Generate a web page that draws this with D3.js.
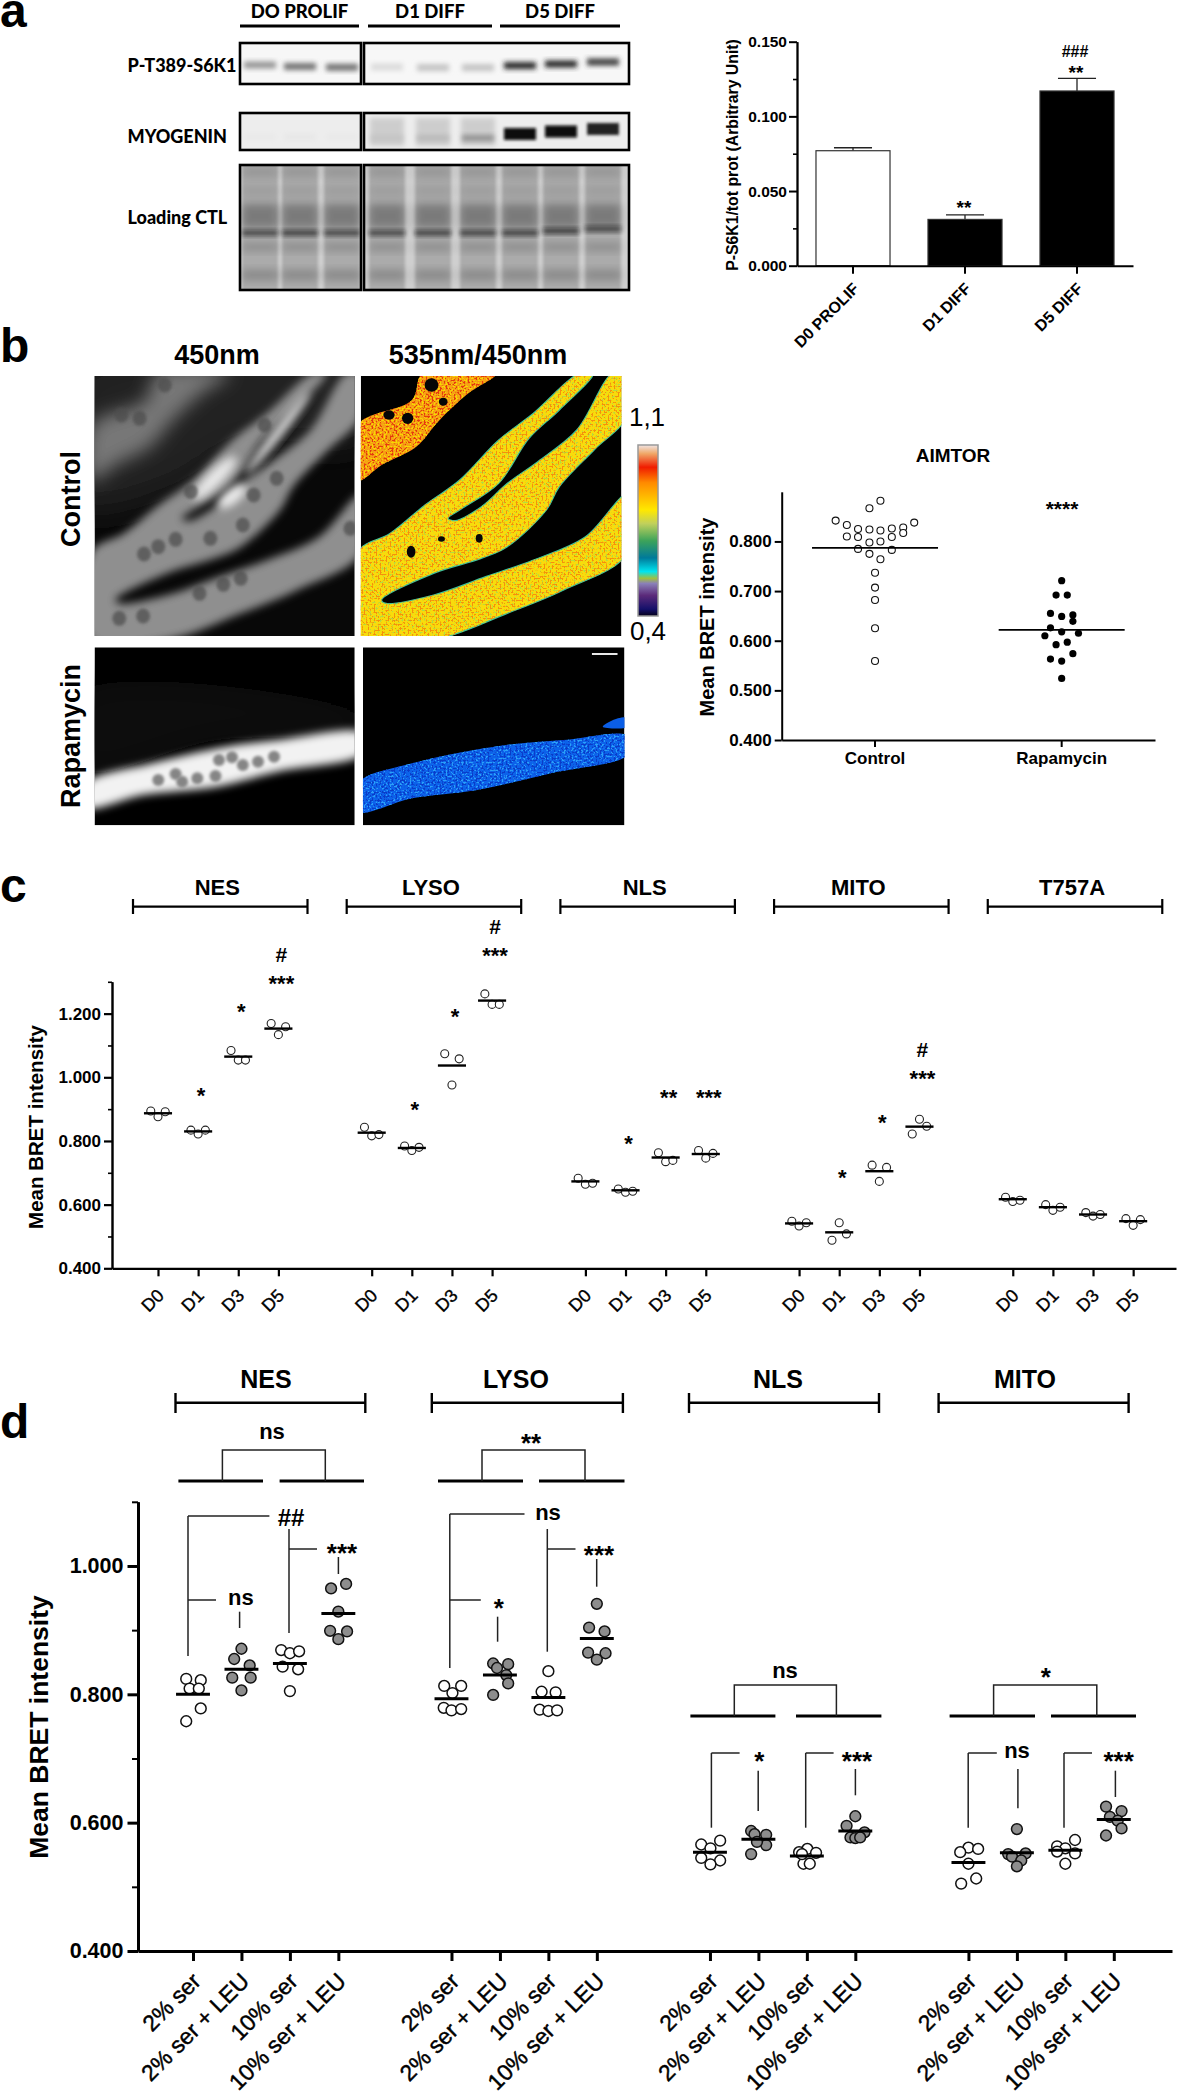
<!DOCTYPE html>
<html><head><meta charset="utf-8">
<script src="https://cdn.jsdelivr.net/npm/d3@7"></script>
<style>html,body{margin:0;background:#fff}svg{display:block}text{font-family:"Liberation Sans",Arial,sans-serif;fill:#000}</style>
</head><body><svg id="c" width="1180" height="2092" viewBox="0 0 1180 2092"></svg>
<script>
// ---------- Panel a data
const barCats=["D0 PROLIF","D1 DIFF","D5 DIFF"];
const barVals=[0.077,0.031,0.117];
const barErrTop=[0.079,0.034,0.1255];
const barFills=["#fff","#000","#000"];
const barTicks=[0,0.05,0.1,0.15];
const barMinor=[0.025,0.075,0.125];
const blotHeaders=["DO PROLIF","D1 DIFF","D5 DIFF"];
const blotLabels=["P-T389-S6K1","MYOGENIN","Loading CTL"];
const s6k1Bands=[.4,.55,.55,.1,.2,.2,.88,.88,.78];
const myogBands=[.04,.05,.04,.2,.25,.42,1,1,.9];
const loadBands=[.75,.8,.75,.75,.78,.78,.8,.8,.7];
// ---------- Panel b data
const aimtorCats=["Control","Rapamycin"];
const aimtorControl=[.842,.833,.825,.824,.822,.826,.828,.838,.882,.867,.810,.809,.798,.800,.809,.817,.785,.775,.764,.783,.737,.707,.682,.625,.559];
const aimtorControlJit=[-.211,-.151,-.091,-.03,.029,.09,.151,.21,.029,-.03,-.151,-.091,-.03,.029,.09,.151,-.091,-.03,.029,.09,0,0,0,0,0];
const aimtorRapa=[.721,.692,.692,.655,.649,.652,.639,.626,.618,.615,.610,.592,.597,.574,.563,.559,.524];
const aimtorRapaJit=[0,-.03,.03,-.06,0,.06,.06,-.06,0,.09,-.09,-.03,.03,.06,-.06,0,0];
const aimtorMeans=[.787,.622];
const aimtorTicks=[.4,.5,.6,.7,.8];
// ---------- Panel c data
const cGroups=["NES","LYSO","NLS","MITO","T757A"];
const cDays=["D0","D1","D3","D5"];
const cJitter=[-.18,0,.18];
const cMeans=[[.887,.830,1.065,1.153],[.826,.778,1.037,1.241],[.673,.645,.748,.759],[.541,.513,.705,.845],[.617,.592,.569,.548]];
const cPoints=[
[[.894,.876,.892],[.834,.822,.834],[1.084,1.054,1.054],[1.169,1.134,1.159]],
[[.843,.816,.820],[.784,.770,.780],[1.074,.976,1.058],[1.262,1.229,1.229]],
[[.683,.664,.667],[.649,.639,.642],[.763,.735,.739],[.770,.746,.761]],
[[.548,.533,.543],[.488,.543,.508],[.724,.673,.717],[.822,.868,.846]],
[[.623,.610,.614],[.600,.582,.592],[.575,.564,.569],[.556,.535,.553]]];
const cTicks=[.4,.6,.8,1,1.2];
const cMinor=[.5,.7,.9,1.1,1.3];
// [group, day, text, value-height]
const cMarks=[[0,1,"*",.960],[0,2,"*",1.222],[0,3,"***",1.312],[0,3,"#",1.387],
[1,1,"*",.916],[1,2,"*",1.208],[1,3,"***",1.400],[1,3,"#",1.475],
[2,1,"*",.810],[2,2,"**",.952],[2,3,"***",.952],
[3,1,"*",.703],[3,2,"*",.875],[3,3,"***",1.013],[3,3,"#",1.089]];
// ---------- Panel d data
const dGroups=["NES","LYSO","NLS","MITO"];
const dConds=["2% ser","2% ser + LEU","10% ser","10% ser + LEU"];
const dMeans=[[.800,.839,.848,.926],[.793,.830,.795,.887],[.554,.574,.548,.587],[.538,.553,.557,.605]];
const dVals=[
[[.824,.822,.809,.809,.778,.758],[.871,.855,.845,.826,.826,.806],[.869,.864,.867,.843,.839,.805],[.965,.972,.929,.899,.898,.886]],
[[.813,.813,.802,.779,.775,.777],[.848,.847,.841,.830,.817,.799],[.836,.804,.803,.776,.774,.775],[.941,.904,.898,.865,.864,.854]],
[[.572,.566,.560,.545,.541,.535],[.587,.582,.581,.565,.551,.570],[.559,.554,.553,.536,.536,.551],[.610,.595,.585,.577,.576,.577]],
[[.561,.554,.559,.536,.513,.505],[.590,.551,.552,.547,.541,.532],[.573,.563,.560,.555,.552,.536],[.625,.618,.609,.603,.591,.580]]];
const dJit=[
[[-.14,.16,-.07,.12,.16,-.14],[0,-.15,.17,-.19,.19,0],[-.18,0,.19,-.15,.17,0],[-.15,.16,0,-.17,.18,0]],
[[-.15,.2,.02,-.16,0,.2],[-.14,.17,-.06,.13,.17,-.14],[0,-.14,.15,-.18,0,.18],[0,-.16,.16,-.18,.18,0]],
[[.21,-.18,.01,-.18,.21,.01],[-.15,-.08,.16,.16,-.15,-.03],[.01,-.16,.19,-.07,.06,-.1],[0,-.18,.19,-.1,0,.1]],
[[0,-.17,.2,0,.16,-.15],[0,-.18,.18,-.1,.09,0],[.2,-.17,0,-.17,.2,0],[-.16,.16,-.08,.08,.16,-.16]]];
const dTicks=[.4,.6,.8,1];
const dMinor=[.5,.7,.9,1.1];

// ---------- Layout
const svg=d3.select("#c");
const defs=svg.append("defs");
const L=(sel,x1,y1,x2,y2,w=1.5,c="#000")=>sel.append("line").attr("x1",x1).attr("y1",y1).attr("x2",x2).attr("y2",y2).attr("stroke",c).attr("stroke-width",w);
function T(sel,s,x,y,fs,o={}){return sel.append("text").text(s).attr("x",x).attr("y",y).attr("font-size",fs).attr("font-weight",o.w||"bold").attr("text-anchor",o.a||"middle").attr("transform",o.r?`rotate(${o.r} ${x} ${y})`:null).style("font-family",o.f||null);}
function mark(sel,s,x,cy,fs){const k=s[0]==="*"?.58:s[0]==="#"?.36:.26;return T(sel,s,x,cy+k*fs,fs);}
function styleAxis(g,w,fs){g.selectAll("path,line").attr("stroke","#000").attr("stroke-width",w);g.selectAll("text").attr("font-size",fs).attr("font-weight","bold").attr("font-family",'"Liberation Sans"');g.selectAll("path").attr("fill","none");}
function blur(id,sd){defs.append("filter").attr("id",id).attr("x","-60%").attr("y","-60%").attr("width","220%").attr("height","220%").append("feGaussianBlur").attr("stdDeviation",sd);}
blur("b1",1.4);blur("b2",2.5);blur("b4",4);blur("b5",5);blur("b9",9);blur("b16",16);blur("b03",.7);
function speck(id,color,seed,k,c,freq=.5){const f=defs.append("filter").attr("id",id).attr("x",0).attr("y",0).attr("width","100%").attr("height","100%").attr("color-interpolation-filters","sRGB");
 f.append("feTurbulence").attr("type","fractalNoise").attr("baseFrequency",freq).attr("numOctaves",2).attr("seed",seed).attr("result","n");
 const q=d3.color(color);
 f.append("feColorMatrix").attr("in","n").attr("type","matrix").attr("values",`0 0 0 0 ${q.r/255} 0 0 0 0 ${q.g/255} 0 0 0 0 ${q.b/255} ${k} 0 0 0 ${c}`).attr("result","m");
 f.append("feComposite").attr("in","m").attr("in2","SourceAlpha").attr("operator","in");}
speck("spOr","#f5900c",3,11,-5.6);speck("spGr","#b4dc40",7,11,-6.6);speck("spRd","#e63a0c",5,11,-5.4);speck("spYl","#f8d800",9,11,-5.9);speck("spBl","#2aa0f8",11,11,-5.8);speck("spDb","#0a3cc8",13,11,-5.6);

// ---------- Panel letters
[["a",27],["b",362],["c",902],["d",1438]].forEach(([s,y])=>T(svg,s,0,y,48,{a:"start"}));

// ---------- Panel a: blots
const blot=svg.append("g");
const laneX=[260,300,342,387,433,478,520,561,603];
const blotBoxes=[[240,361],[364,629]];
let clipN=0;
function clip(x,y,w,h){const id="cl"+(clipN++);defs.append("clipPath").attr("id",id).append("rect").attr("x",x).attr("y",y).attr("width",w).attr("height",h);return `url(#${id})`;}
blotHeaders.forEach((h,i)=>{const r=[[240,359],[368,492],[500,620]][i];
 T(blot,h,(r[0]+r[1])/2,18,18.5,{f:"Lato"}).style("font-weight",900);L(blot,r[0],26,r[1],26,3.2);});
blotLabels.forEach((s,i)=>T(blot,s,127.5,[72,143,224][i],18,{a:"start",f:"Lato"}).style("font-weight",900));
function gelRow(y0,y1,bg,draw){blotBoxes.forEach(b=>{const g=blot.append("g").attr("clip-path",clip(b[0],y0,b[1]-b[0],y1-y0));
  g.append("rect").attr("x",b[0]).attr("y",y0).attr("width",b[1]-b[0]).attr("height",y1-y0).attr("fill",bg);draw(g);
  });
  blotBoxes.forEach(b=>blot.append("rect").attr("x",b[0]).attr("y",y0).attr("width",b[1]-b[0]).attr("height",y1-y0).attr("fill","none").attr("stroke","#000").attr("stroke-width",2.6));}
const dark=d3.scaleLinear().domain([0,1]).range(["#f2f2f2","#0c0c0c"]);
const s6y=[65,66.5,67.3,67,67.6,67.6,65.6,64,62], myy=[136,136,136,137,137,137,134,131.5,129];
gelRow(43,84,"#f7f7f7",g=>{g.selectAll("rect.b").data(s6k1Bands).join("rect").attr("class","b").attr("x",(d,i)=>laneX[i]-16).attr("width",32).attr("y",(d,i)=>s6y[i]-3.5).attr("height",7).attr("fill",d=>dark(d)).attr("filter","url(#b2)");});
gelRow(113,150,"#ededed",g=>{
  g.selectAll("rect.h").data(d3.range(3,6)).join("rect").attr("class","h").attr("x",i=>laneX[i]-17).attr("width",34).attr("y",118).attr("height",28).attr("fill","#000").attr("opacity",.13).attr("filter","url(#b2)");
  g.selectAll("rect.b").data(myogBands).join("rect").attr("class","b").attr("x",(d,i)=>laneX[i]-16).attr("width",32).attr("y",(d,i)=>myy[i]-(d>.8?6:2)).attr("height",d=>d>.8?12:6).attr("fill",d=>dark(d)).attr("filter",(d)=>d>.8?"url(#b1)":"url(#b2)");});
const smear=[[167,177,.12],[186,196,.08],[204,228,.28],[243,251,.18],[270,280,.2]];
gelRow(165,290,"#cfcfcf",g=>{laneX.forEach((x,i)=>{
   g.append("rect").attr("x",x-18).attr("width",36).attr("y",160).attr("height",135).attr("fill","#ababab").attr("filter","url(#b1)");
   smear.forEach(s=>g.append("rect").attr("x",x-18).attr("width",36).attr("y",s[0]).attr("height",s[1]-s[0]).attr("fill","#000").attr("opacity",s[2]).attr("filter","url(#b4)"));
   g.append("rect").attr("x",x-18).attr("width",36).attr("y",(i>5?233-(i-6)*2:233)-2.5).attr("height",5).attr("fill","#111").attr("opacity",loadBands[i]).attr("filter","url(#b2)");
 });});

// ---------- Panel a: bar chart
const ba=svg.append("g");
const by=d3.scaleLinear().domain([0,.15]).range([265.7,41.7]);
const bx=d3.scaleBand().domain(barCats).range([797,1133]).paddingInner(.339).paddingOuter(.1695);
ba.selectAll("line.err").data(barCats).join("line").attr("class","err").attr("x1",d=>bx(d)+bx.bandwidth()/2).attr("x2",d=>bx(d)+bx.bandwidth()/2).attr("y1",(d,i)=>by(barVals[i])).attr("y2",(d,i)=>by(barErrTop[i])).attr("stroke","#222").attr("stroke-width",1.3);
ba.selectAll("line.cap").data(barCats).join("line").attr("class","cap").attr("x1",d=>bx(d)+18).attr("x2",d=>bx(d)+bx.bandwidth()-18).attr("y1",(d,i)=>by(barErrTop[i])).attr("y2",(d,i)=>by(barErrTop[i])).attr("stroke","#222").attr("stroke-width",1.3);
ba.selectAll("rect").data(barCats).join("rect").attr("x",d=>bx(d)).attr("width",bx.bandwidth()).attr("y",(d,i)=>by(barVals[i])).attr("height",(d,i)=>by(0)-by(barVals[i])).attr("fill",(d,i)=>barFills[i]).attr("stroke","#333").attr("stroke-width",1.2);
let g=ba.append("g").attr("transform","translate(797,0)").call(d3.axisLeft(by).tickValues(barTicks).tickFormat(d3.format(".3f")).tickSize(8).tickSizeOuter(0).tickPadding(2));styleAxis(g,2,15.5);
g=ba.append("g").attr("transform","translate(797,0)").call(d3.axisLeft(by).tickValues(barMinor).tickFormat("").tickSize(4).tickSizeOuter(0));styleAxis(g,1.6,0);
g=ba.append("g").attr("transform","translate(0,265.7)").call(d3.axisBottom(bx).tickSize(8).tickSizeOuter(0));styleAxis(g,2,16);
g.selectAll(".tick text").attr("x",0).attr("y",0).attr("dy",".35em").attr("text-anchor","end").attr("transform","translate(3,20) rotate(-45)");
T(ba,"P-S6K1/tot prot (Arbitrary Unit)",738,155,15.8,{r:-90});
mark(ba,"**",964,203,19);mark(ba,"**",1076,68,19);mark(ba,"###",1075,51,16);

// ---------- Panel b: micrographs (outlines traced in zoom coordinates)
const zx=d3.scaleLinear().domain([0,2.306]).range([0,1]);
const zy=d3.scaleLinear().domain([0,3]).range([350,351]);
const outline=(a,dx=0)=>d3.line().x(p=>zx(p[0]+dx)).y(p=>zy(p[1])).curve(d3.curveCatmullRomClosed.alpha(.5))(a);
const upperTube=[[825,225],[950,150],[975,70],[1145,70],[1080,130],[1010,215],[960,290],[880,345],[825,392]];
const mainTube=[[825,606],[900,550],[980,465],[1060,390],[1150,270],[1230,190],[1335,70],[1368,70],[1290,180],[1220,265],[1150,400],[1060,480],[1033,505],[1050,512],[1110,470],[1170,400],[1240,335],[1330,240],[1412,70],[1445,70],[1445,200],[1370,300],[1290,410],[1260,480],[1170,590],[1110,625],[1000,670],[880,750],[890,760],[1000,735],[1120,680],[1230,630],[1350,560],[1445,435],[1445,612],[1300,720],[1170,790],[1000,870],[825,870]];
const nuclei=[[380,105],[280,195],[322,205],[610,225],[440,425],[638,385],[585,435],[560,525],[485,565],[405,568],[365,590],[332,612],[460,730],[515,703],[555,685],[275,805],[330,798],[808,535]];
const holes=[[995,105,16,20],[897,195,13,14],[940,205,13,17],[1022,155,10,12],[948,605,10,18],[1105,565,8,13],[1018,567,8,8]];
const im=svg.append("g");
function panel(x0,y0,x1,y1,bg){const gg=im.append("g").attr("clip-path",clip(zx(x0),zy(y0),zx(x1)-zx(x0),zy(y1)-zy(y0)));gg.append("rect").attr("x",zx(x0)).attr("y",zy(y0)).attr("width",zx(x1)-zx(x0)).attr("height",zy(y1)-zy(y0)).attr("fill",bg);return gg;}
const poly=(gg,a,dx,fill,f)=>gg.append("path").attr("d",outline(a,dx)).attr("fill",fill).attr("filter",f?`url(#${f})`:null);
const rotE=(gg,x,y,rx,ry,r,fill,f,o=1)=>gg.append("ellipse").attr("cx",zx(x)).attr("cy",zy(y)).attr("rx",rx).attr("ry",ry).attr("fill",fill).attr("opacity",o).attr("transform",`rotate(${r} ${zx(x)} ${zy(y)})`).attr("filter",`url(#${f})`);
// control 450nm
let pg=panel(218,78,818,858,"#080808");
poly(pg,[[180,60],[850,60],[850,260],[560,300],[400,420],[180,470]],0,"#202020","b16");
poly(pg,upperTube.map(p=>[p[0]-614,p[1]]),0,"#777","b9");
poly(pg,mainTube,-614,"#8f8f8f","b4");
rotE(pg,640,250,5,52,38,"#dcdcdc","b4");
rotE(pg,495,385,8,30,45,"#f4f4f4","b5",.9);
rotE(pg,535,440,7,17,52,"#eee","b4");
pg.selectAll("ellipse.n").data(nuclei).join("ellipse").attr("class","n").attr("cx",d=>zx(d[0])).attr("cy",d=>zy(d[1])).attr("rx",7).attr("ry",7.5).attr("fill","#4d4d4d").attr("opacity",.72).attr("filter","url(#b1)");
// control ratio
pg=panel(832,78,1433,858,"#000");
poly(pg,upperTube,0,"#f6a414");
pg.append("path").attr("d",outline(upperTube)).attr("filter","url(#spRd)");
pg.append("path").attr("d",outline(upperTube)).attr("filter","url(#spYl)");
poly(pg,mainTube,0,"#f8dc0c").attr("stroke","#3fc09a").attr("stroke-width",1.2);
pg.append("path").attr("d",outline(mainTube)).attr("filter","url(#spOr)");
pg.append("path").attr("d",outline(mainTube)).attr("filter","url(#spGr)");
pg.selectAll("ellipse.n").data(holes).join("ellipse").attr("class","n").attr("cx",d=>zx(d[0])).attr("cy",d=>zy(d[1])).attr("rx",d=>d[2]/2.306).attr("ry",d=>d[3]/3).attr("fill","#060606");
// rapamycin 450nm
pg=panel(218,892,818,1426,"#000");
poly(pg,[[180,1030],[850,1100],[850,1140],[500,1170],[180,1260]],0,"#0e0e0e","b16");
poly(pg,[[200,1300],[350,1240],[520,1190],[640,1170],[840,1150],[840,1210],[640,1265],[500,1310],[330,1335],[200,1372]],0,"#f2f2f2","b4");
pg.selectAll("ellipse.n").data([[365,1290],[405,1272],[420,1295],[455,1285],[497,1278],[505,1230],[535,1222],[560,1245],[595,1235],[632,1220]]).join("ellipse").attr("class","n").attr("cx",d=>zx(d[0])).attr("cy",d=>zy(d[1])).attr("rx",6).attr("ry",6).attr("fill","#858585").attr("filter","url(#b1)");
// rapamycin ratio
const blueTube=[[825,1300],[950,1240],[1140,1190],[1300,1170],[1450,1158],[1450,1212],[1270,1270],[1100,1320],[950,1345],[825,1385]];
pg=panel(837,892,1440,1426,"#000");
poly(pg,blueTube,0,"#0c62ea");
pg.append("path").attr("d",outline(blueTube)).attr("filter","url(#spBl)");
pg.append("path").attr("d",outline(blueTube)).attr("filter","url(#spDb)");
poly(pg,[[1390,1130],[1425,1105],[1450,1105],[1450,1130]],0,"#0b5ee6");
L(pg,zx(1365),zy(912),zx(1424),zy(912),2,"#e8e8e8");
// colour bar
const cbStops=[[0,"#f0e4e4"],[.05,"#f0a868"],[.13,"#f01c00"],[.22,"#ff8a00"],[.38,"#ffe800"],[.46,"#c0d05c"],[.56,"#3da35a"],[.66,"#007a9a"],[.74,"#00e4f0"],[.78,"#a0c040"],[.81,"#8a80b8"],[.88,"#5b2a7a"],[.96,"#14106a"],[1,"#050018"]];
const lg=defs.append("linearGradient").attr("id","cb").attr("x1",0).attr("y1",0).attr("x2",0).attr("y2",1);
lg.selectAll("stop").data(cbStops).join("stop").attr("offset",d=>d[0]).attr("stop-color",d=>d[1]);
im.append("rect").attr("x",638).attr("y",445).attr("width",20).attr("height",171).attr("fill","url(#cb)").attr("stroke","#999").attr("stroke-width",1.5);
T(im,"1,1",647,426,26,{w:"normal"});T(im,"0,4",648,640,26,{w:"normal"});
T(im,"450nm",217,364,27);T(im,"535nm/450nm",478,364,27);
T(im,"Control",80,499,27,{r:-90});T(im,"Rapamycin",80,736,27,{r:-90});

// ---------- Panel b: AIMTOR
const bb=svg.append("g");
const ay=d3.scaleLinear().domain([.4,.9]).range([740,491.8]);
const ax=d3.scaleBand().domain(aimtorCats).range([781.7,1155]);
const aStep=ax.step(),aC=c=>ax(c)+aStep/2;
bb.selectAll("circle.c").data(aimtorControl).join("circle").attr("class","c").attr("cx",(d,i)=>aC("Control")+aimtorControlJit[i]*aStep).attr("cy",d=>ay(d)).attr("r",3.5).attr("fill","#fff").attr("stroke","#111").attr("stroke-width",1.1);
bb.selectAll("circle.r").data(aimtorRapa).join("circle").attr("class","r").attr("cx",(d,i)=>aC("Rapamycin")+aimtorRapaJit[i]*aStep).attr("cy",d=>ay(d)).attr("r",3.6).attr("fill","#000");
bb.selectAll("line.m").data(aimtorCats).join("line").attr("class","m").attr("x1",d=>aC(d)-63).attr("x2",d=>aC(d)+63).attr("y1",(d,i)=>ay(aimtorMeans[i])).attr("y2",(d,i)=>ay(aimtorMeans[i])).attr("stroke","#000").attr("stroke-width",1.8);
g=bb.append("g").attr("transform","translate(781.7,0)").call(d3.axisLeft(ay).tickValues(aimtorTicks).tickFormat(d3.format(".3f")).tickSize(7).tickSizeOuter(0).tickPadding(3));styleAxis(g,2,17);
g=bb.append("g").attr("transform","translate(0,740)").call(d3.axisBottom(ax).tickSize(7).tickSizeOuter(0).tickPadding(5));styleAxis(g,2,17);
T(bb,"AIMTOR",953,462,19);T(bb,"Mean BRET intensity",714,617,20,{r:-90});mark(bb,"****",1062,504,21);

// ---------- Panel c
const cc=svg.append("g");
const cy=d3.scaleLinear().domain([.4,1.3]).range([1268.3,981.8]);
const cPitch=40.13,cGroupStep=5.325;
const cx=d3.scaleLinear().domain([0,1]).range([158,158+cPitch]);
const cU=(g,i)=>g*cGroupStep+i;
cGroups.forEach((name,gi)=>{
 const a=cx(cU(gi,0))-25,b=a+174.5;
 L(cc,a,906.7,b,906.7,2.2);L(cc,a,899,a,914,2.2);L(cc,b,899,b,914,2.2);
 T(cc,name,(a+b)/2-3,894.5,22);
 cDays.forEach((d,di)=>{
  cc.selectAll(null).data(cPoints[gi][di]).join("circle").attr("cx",(v,k)=>cx(cU(gi,di)+cJitter[k])).attr("cy",v=>cy(v)).attr("r",4).attr("fill","#fff").attr("stroke","#222").attr("stroke-width",1.1);
  const m=cMeans[gi][di];
  L(cc,cx(cU(gi,di)-.35),cy(m),cx(cU(gi,di)+.35),cy(m),2.4);
 });
});
cMarks.forEach(([gi,di,s,v])=>mark(cc,s,cx(cU(gi,di))+3,cy(v),s==="#"?21:22));
const cTickU=cGroups.flatMap((n,gi)=>cDays.map((d,di)=>cU(gi,di)));
g=cc.append("g").attr("transform","translate(112,0)").call(d3.axisLeft(cy).tickValues(cTicks).tickFormat(d3.format(".3f")).tickSize(8).tickSizeOuter(0).tickPadding(3));styleAxis(g,2.2,17);
g=cc.append("g").attr("transform","translate(112,0)").call(d3.axisLeft(cy).tickValues(cMinor).tickFormat("").tickSize(4).tickSizeOuter(0));styleAxis(g,1.6,0);
g=cc.append("g").attr("transform","translate(0,1268.3)");
g.call(d3.axisBottom(cx.copy().domain([cx.invert(112),cx.invert(1176)]).range([112,1176])).tickValues(cTickU).tickFormat((d,i)=>cDays[i%4]).tickSize(8).tickSizeOuter(0));styleAxis(g,2.2,18);
g.selectAll(".tick text").attr("x",0).attr("y",0).attr("dy",".35em").attr("text-anchor","end").attr("font-weight","normal").style("stroke","#000").style("stroke-width",.35).attr("transform","translate(2,24) rotate(-45)");
T(cc,"Mean BRET intensity",43,1127,20.5,{r:-90});

// ---------- Panel d
const dd=svg.append("g");
const dy=d3.scaleLinear().domain([.4,1.1]).range([1951,1501.8]);
const dPitch=48.45,dGroupStep=5.335;
const dx=d3.scaleLinear().domain([0,1]).range([193,193+dPitch]);
const dU=(g,i)=>g*dGroupStep+i;
const dBrack=[[175.5,365.3],[431.8,622.9],[689,879],[938.6,1128.6]];
dGroups.forEach((name,gi)=>{
 const [a,b]=dBrack[gi];
 L(dd,a,1402.7,b,1402.7,2.4);L(dd,a,1393,a,1413,2.4);L(dd,b,1393,b,1413,2.4);
 T(dd,name,[266,516,778,1025][gi],1388,25);
 dConds.forEach((c,ci)=>{
  dd.selectAll(null).data(dVals[gi][ci]).join("circle").attr("cx",(v,k)=>dx(dU(gi,ci)+dJit[gi][ci][k])).attr("cy",v=>dy(v)).attr("r",5.4).attr("fill",ci%2?"#8d8d8d":"#fff").attr("stroke","#111").attr("stroke-width",1.5);
  const m=dMeans[gi][ci];
  L(dd,dx(dU(gi,ci)-.35),dy(m),dx(dU(gi,ci)+.35),dy(m),3);
 });
});
[[1481,1450,[178.4,263],[279.6,364],[222.4,325.3],"ns",272,1433],
 [1481,1450,[438,523],[539,624.5],[482,585],"**",531,1437],
 [1716,1685,[690.4,775.4],[796,881.4],[734.3,836.4],"ns",785,1672],
 [1716,1685,[949.6,1035],[1051,1136],[993.6,1096.8],"*",1045.7,1671]].forEach(([y,t,l,r,c,s,lx,ly])=>{
 L(dd,l[0],y,l[1],y,3.2);L(dd,r[0],y,r[1],y,3.2);
 dd.append("path").attr("d",`M${c[0]},${y}V${t}H${c[1]}V${y}`).attr("fill","none").attr("stroke","#222").attr("stroke-width",1.5);
 mark(dd,s,lx,ly,s==="ns"?22:26);
});
const inner=[
 [188,1516,269.4,"##",291,1517,null,null,null],
 [188,1600,216,"ns",240.8,1599,239.6,1611.7,1628],
 [289,1549,317,"***",342,1547,338.4,1557,1574],
 [449.8,1514,524.5,"ns",548,1514,null,null,null],
 [449.8,1600,480.8,"*",498.8,1602,497.6,1616.7,1641.7],
 [547.3,1549,575.5,"***",599,1549,596.7,1559,1586.7],
 [711.4,1753,739.6,"*",759.3,1755,758.2,1770.7,1811],
 [805.7,1753,833.6,"***",857,1755,855.4,1769,1795.3],
 [968.2,1753,996.8,"ns",1017,1752,1017.9,1769,1808.3],
 [1064,1753,1092,"***",1118.6,1755,1115.4,1770.7,1797]];
inner.forEach(([vx,hy,hx,s,lx,ly,wx,w1,w2])=>{
 L(dd,vx,hy,hx,hy,1.5,"#222");
 mark(dd,s,lx,ly,s==="ns"?22:s==="##"?24:26);
 if(wx)L(dd,wx,w1,wx,w2,1.5,"#222");
});
[[188,1516,1656],[289,1529,1633],[449.8,1514,1668],[547.3,1529,1651.7],[711.4,1753,1827.7],[805.7,1753,1827.7],[968.2,1753,1827.7],[1064,1753,1827.7]].forEach(a=>L(dd,a[0],a[1],a[0],a[2],1.5,"#222"));
g=dd.append("g").attr("transform","translate(138,0)").call(d3.axisLeft(dy).tickValues(dTicks).tickFormat(d3.format(".3f")).tickSize(10.5).tickSizeOuter(0).tickPadding(4));styleAxis(g,3,21.5);
g=dd.append("g").attr("transform","translate(138,0)").call(d3.axisLeft(dy).tickValues(dMinor).tickFormat("").tickSize(6).tickSizeOuter(0));styleAxis(g,2,0);
const dTickU=dGroups.flatMap((n,gi)=>dConds.map((c,ci)=>dU(gi,ci)));
g=dd.append("g").attr("transform","translate(0,1951)");
g.call(d3.axisBottom(dx.copy().domain([dx.invert(138),dx.invert(1172)]).range([138,1172])).tickValues(dTickU).tickFormat((d,i)=>dConds[i%4]).tickSize(10).tickSizeOuter(0));styleAxis(g,3,22.8);
g.selectAll(".tick text").attr("x",0).attr("y",0).attr("dy",".35em").attr("text-anchor","end").attr("transform","translate(3,26) rotate(-45)").attr("font-weight","normal").style("stroke","#000").style("stroke-width",.45);
T(dd,"Mean BRET intensity",48,1727,26.5,{r:-90});
</script></body></html>
